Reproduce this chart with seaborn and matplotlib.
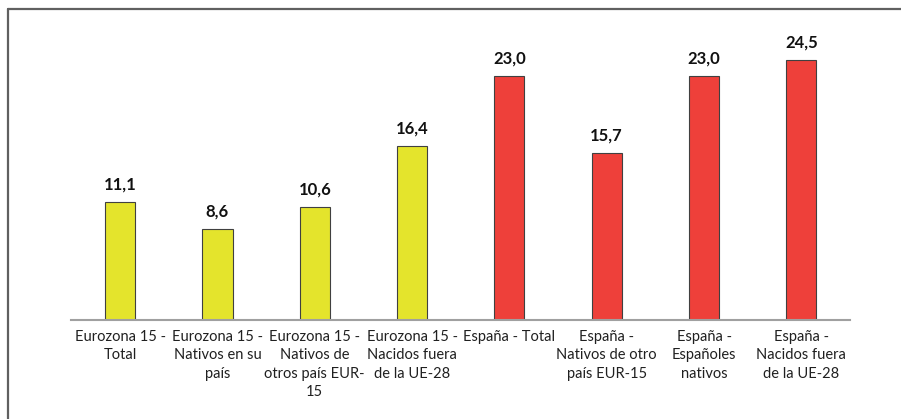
import matplotlib
matplotlib.use("Agg")
import matplotlib.pyplot as plt
import seaborn as sns
import pandas as pd
from matplotlib.lines import Line2D

categories = [
    "Eurozona 15 -\nTotal",
    "Eurozona 15 -\nNativos en su\npaís",
    "Eurozona 15 -\nNativos de\notros país EUR-\n15",
    "Eurozona 15 -\nNacidos fuera\nde la UE-28",
    "España - Total",
    "España -\nNativos de otro\npaís EUR-15",
    "España -\nEspañoles\nnativos",
    "España -\nNacidos fuera\nde la UE-28",
]
values = [11.1, 8.6, 10.6, 16.4, 23.0, 15.7, 23.0, 24.5]
groups = ["Eurozona"] * 4 + ["España"] * 4

df = pd.DataFrame({"cat": categories, "val": values, "grp": groups})

sns.set_style("white")
plt.rcParams["font.family"] = ["Lato", "DejaVu Sans"]

fig = plt.figure(figsize=(9.01, 4.19), dpi=100)
ax = fig.add_axes([0.0793, 0.2363, 0.8641, 0.71])

sns.barplot(data=df, x="cat", y="val", hue="grp",
            palette={"Eurozona": "#E4E42C", "España": "#EE403A"},
            saturation=1, dodge=False, width=0.31,
            edgecolor="#404040", linewidth=0.8, legend=False, ax=ax)

ax.set_ylim(0, 28)
ax.set_xlim(-0.5, 7.5)
ax.set_xlabel("")
ax.set_ylabel("")
ax.set_yticks([])
for s in ["left", "right", "top"]:
    ax.spines[s].set_visible(False)
ax.spines["bottom"].set_color("#a0a0a0")
ax.spines["bottom"].set_linewidth(1.5)
ax.tick_params(axis="x", length=0, pad=7, labelsize=10.5, colors="#202020")
for lbl in ax.get_xticklabels():
    lbl.set_linespacing(1.4)

for i, v in enumerate(values):
    ax.text(i, v + 0.9, f"{v:.1f}".replace(".", ","), ha="center", va="bottom",
            fontsize=12, fontweight="bold", color="#111111")

# chart frame (left and top edges)
fig.add_artist(Line2D([7.5 / 901, 7.5 / 901], [0, 1 - 9.5 / 419],
                      transform=fig.transFigure, color="#606060", linewidth=1.6))
fig.add_artist(Line2D([7.5 / 901, 1], [1 - 9.5 / 419, 1 - 9.5 / 419],
                      transform=fig.transFigure, color="#606060", linewidth=1.6))

fig.savefig("out.png", dpi=100)
